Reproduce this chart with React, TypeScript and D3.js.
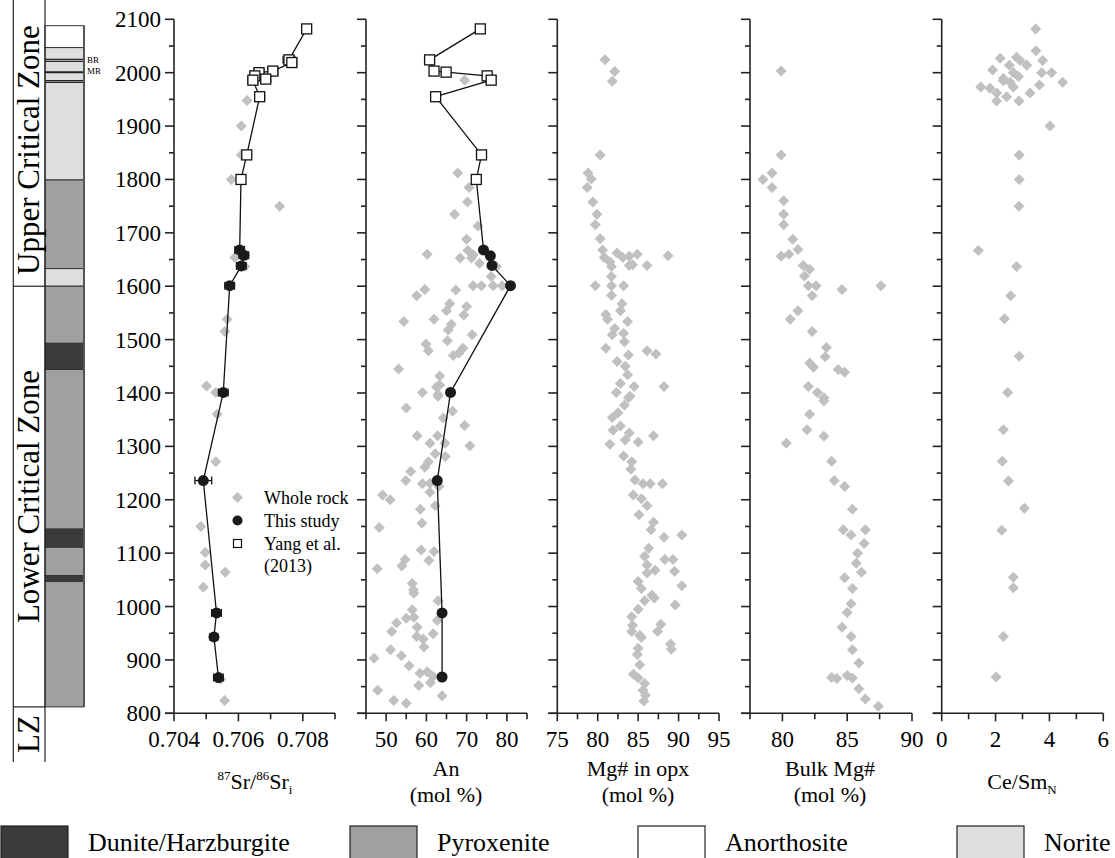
import React from "react";
import * as d3 from "d3";

// ---------- DATA ----------
const depthTicks = d3.range(800, 2101, 100);
const depthMinorTicks = d3.range(850, 2100, 100);

const lithologies = ["Dunite/Harzburgite", "Pyroxenite", "Anorthosite", "Norite"];

// [top depth, bottom depth, lithology]
const stratLayers: [number, number, string][] = [
  [2088, 2047, "Anorthosite"],
  [2047, 1799, "Norite"],
  [1799, 1633, "Pyroxenite"],
  [1633, 1600, "Norite"],
  [1600, 1493, "Pyroxenite"],
  [1493, 1444, "Dunite/Harzburgite"],
  [1444, 1145, "Pyroxenite"],
  [1145, 1111, "Dunite/Harzburgite"],
  [1111, 1058, "Pyroxenite"],
  [1058, 1047, "Dunite/Harzburgite"],
  [1047, 812, "Pyroxenite"],
];
const chromititeDepths = [2025, 2021, 2001, 1985, 1982];
const reefLabels: [string, number][] = [["BR", 2023], ["MR", 2003]];
const zones: [string, number, number][] = [
  ["Upper Critical Zone", 2110, 1600],
  ["Lower Critical Zone", 1600, 812],
  ["LZ", 812, 710],
];

// Panel 1: 87Sr/86Sr_i  [value, depth]
const srWholeRock: [number, number][] = [
  [0.70627, 1948], [0.70609, 1900], [0.70609, 1846], [0.70578, 1800], [0.70728, 1750],
  [0.70589, 1654], [0.7062, 1637], [0.70565, 1538], [0.70558, 1515], [0.70501, 1413],
  [0.7053, 1401], [0.70534, 1360], [0.7053, 1271], [0.70483, 1150], [0.70497, 1101],
  [0.70497, 1078], [0.70559, 1064], [0.70491, 1036], [0.70545, 864], [0.70557, 824],
];
// [value, depth, error]
const srThisStudy: [number, number, number][] = [
  [0.70604, 1668, 0.00015], [0.70617, 1658, 0.00015], [0.70609, 1638, 0.00015],
  [0.70573, 1601, 0.00015], [0.70553, 1401, 0.00015], [0.70491, 1236, 0.00026],
  [0.70532, 988, 0.00015], [0.70524, 943, 0.00012], [0.70538, 867, 0.00015],
];
const srYang: [number, number, number][] = [
  [0.70812, 2082, 0.0001], [0.70757, 2024, 0.00018], [0.70766, 2019, 0.00015],
  [0.70707, 2003, 0.00015], [0.70664, 2000, 0.00015], [0.70651, 1994, 0.00012],
  [0.70685, 1988, 0.00015], [0.70645, 1986, 0.00015], [0.70666, 1955, 0.00015],
  [0.70626, 1846, 0.0001], [0.70608, 1800, 0.0001],
];

// Panel 2: An (mol %)
const anWholeRock: [number, number][] = [
  [69.5, 1986], [67.8, 1812], [70.6, 1785], [70.2, 1758], [67.0, 1735], [72.8, 1713],
  [70.0, 1688], [60.2, 1660], [70.3, 1667], [68.4, 1653], [71.6, 1659], [73.2, 1643],
  [77.4, 1637], [76.1, 1618], [71.2, 1653], [71.6, 1601], [73.7, 1601], [76.6, 1601],
  [78.8, 1601], [67.3, 1593], [59.6, 1594], [57.6, 1582], [65.8, 1567], [65.0, 1554],
  [70.0, 1562], [69.3, 1546], [54.4, 1534], [61.9, 1538], [66.2, 1529], [65.4, 1518],
  [71.4, 1509], [65.2, 1498], [59.9, 1492], [60.5, 1479], [69.1, 1484], [68.1, 1475],
  [66.7, 1470], [53.1, 1445], [63.3, 1432], [62.5, 1411], [59.0, 1401], [62.9, 1397],
  [63.3, 1415], [62.9, 1394], [55.0, 1372], [66.5, 1366], [64.2, 1353], [69.5, 1339],
  [57.7, 1320], [62.8, 1320], [60.9, 1306], [64.6, 1306], [70.8, 1301], [62.2, 1286],
  [64.7, 1281], [60.5, 1271], [59.6, 1261], [56.1, 1253], [54.9, 1236], [59.0, 1230],
  [60.9, 1231], [63.1, 1225], [60.9, 1214], [49.1, 1209], [51.0, 1200], [62.2, 1189],
  [58.5, 1182], [58.9, 1156], [48.3, 1148], [58.7, 1106], [61.9, 1103], [60.6, 1086],
  [54.7, 1088], [53.9, 1076], [47.8, 1071], [56.5, 1043], [56.8, 1031], [56.9, 1025],
  [62.9, 1011], [56.5, 994], [55.0, 978], [56.9, 980], [52.6, 969], [51.4, 953],
  [62.7, 974], [57.7, 961], [57.6, 944], [59.2, 939], [61.7, 949], [59.4, 924],
  [51.1, 919], [53.8, 908], [47.0, 903], [55.7, 889], [58.4, 875], [60.2, 878],
  [61.7, 869], [61.0, 857], [58.1, 852], [47.9, 843], [51.9, 824], [55.0, 819],
  [63.9, 833],
];
const anThisStudy: [number, number][] = [
  [74.2, 1668], [75.9, 1657], [76.3, 1639], [80.9, 1601], [66.0, 1401],
  [62.7, 1236], [63.9, 988], [63.9, 868],
];
const anYang: [number, number][] = [
  [73.4, 2082], [60.8, 2024], [61.9, 2003], [64.9, 2001], [75.1, 1994],
  [76.1, 1986], [62.3, 1955], [73.7, 1846], [72.4, 1800],
];

// Panel 3: Mg# in opx
const mgOpx: [number, number][] = [
  [80.9, 2024], [82.1, 2002], [81.8, 1984], [80.3, 1846], [78.8, 1812], [79.2, 1801],
  [78.7, 1785], [79.4, 1758], [79.9, 1735], [79.7, 1715], [80.3, 1689], [80.6, 1668],
  [80.8, 1654], [81.5, 1646], [81.7, 1637], [82.4, 1662], [83.1, 1654], [83.9, 1656],
  [84.9, 1660], [88.7, 1657], [83.9, 1639], [84.3, 1640], [86.1, 1639], [81.7, 1618],
  [79.7, 1601], [81.7, 1601], [83.2, 1601], [81.7, 1583], [83.0, 1567], [82.8, 1554],
  [81.0, 1547], [81.2, 1538], [83.7, 1534], [82.1, 1521], [81.8, 1509], [83.2, 1512],
  [83.3, 1496], [81.0, 1484], [83.8, 1471], [86.1, 1479], [87.2, 1473], [82.4, 1459],
  [83.4, 1450], [83.7, 1434], [82.8, 1418], [84.5, 1412], [88.2, 1412], [82.3, 1401],
  [84.0, 1394], [83.8, 1391], [83.3, 1377], [82.5, 1363], [81.8, 1354], [82.8, 1338],
  [81.9, 1330], [83.9, 1325], [86.9, 1320], [83.4, 1312], [85.0, 1308], [81.5, 1304],
  [83.2, 1282], [84.2, 1271], [84.1, 1257], [84.6, 1237], [85.6, 1230], [86.5, 1230],
  [88.0, 1230], [84.4, 1209], [85.4, 1202], [86.1, 1189], [85.1, 1172], [86.9, 1158],
  [86.6, 1144], [88.2, 1130], [90.4, 1134], [86.3, 1109], [85.8, 1094], [88.3, 1088],
  [89.3, 1088], [86.1, 1078], [87.1, 1068], [89.5, 1066], [86.1, 1063], [85.0, 1047],
  [85.4, 1034], [90.4, 1039], [86.7, 1021], [87.0, 1016], [85.8, 1011], [85.0, 995],
  [89.6, 1003], [84.2, 981], [84.3, 965], [84.2, 953], [85.2, 946], [87.8, 967],
  [87.4, 953], [89.0, 930], [89.1, 920], [85.4, 942], [85.0, 922], [84.9, 910],
  [85.2, 891], [84.4, 873], [85.0, 866], [85.8, 856], [85.6, 843], [85.9, 834],
  [85.7, 823],
];

// Panel 4: Bulk Mg#
const bulkMg: [number, number][] = [
  [79.9, 2003], [79.9, 1846], [79.2, 1812], [78.5, 1800], [79.2, 1785], [80.1, 1760],
  [80.1, 1735], [80.1, 1715], [80.8, 1688], [81.2, 1669], [79.9, 1656], [80.5, 1660],
  [81.6, 1639], [82.1, 1632], [81.7, 1619], [82.0, 1601], [82.6, 1601], [84.6, 1594],
  [87.6, 1601], [82.3, 1582], [81.2, 1554], [80.6, 1538], [82.3, 1515], [83.4, 1485],
  [83.3, 1468], [82.1, 1456], [82.4, 1448], [84.3, 1444], [84.8, 1439], [82.0, 1412],
  [82.7, 1401], [83.2, 1391], [83.2, 1385], [82.1, 1360], [81.9, 1331], [83.2, 1319],
  [80.3, 1306], [83.8, 1272], [84.0, 1236], [84.8, 1225], [85.4, 1182], [84.7, 1144],
  [85.3, 1134], [86.4, 1144], [86.3, 1118], [85.8, 1100], [85.7, 1081], [86.1, 1064],
  [84.8, 1054], [85.4, 1034], [85.3, 1005], [85.0, 989], [84.6, 961], [85.3, 944],
  [85.4, 919], [85.9, 894], [83.8, 867], [84.2, 865], [85.0, 871], [85.4, 866],
  [85.9, 846], [86.4, 827], [87.4, 813],
];

// Panel 5: Ce/Sm_N
const ceSm: [number, number][] = [
  [3.49, 2082], [3.5, 2041], [3.75, 2023], [2.17, 2027], [2.78, 2029], [2.91, 2023],
  [3.16, 2014], [2.51, 2014], [1.89, 2005], [2.66, 2000], [2.85, 1993], [2.29, 1989],
  [2.54, 1982], [3.71, 2000], [4.08, 2000], [4.49, 1982], [3.63, 1977], [1.45, 1973],
  [1.79, 1971], [2.04, 1962], [2.41, 1955], [2.04, 1947], [3.28, 1962], [2.87, 1947],
  [2.66, 1973], [2.29, 1985], [4.02, 1900], [2.88, 1846], [2.88, 1800], [2.87, 1750],
  [1.36, 1667], [2.78, 1637], [2.56, 1582], [2.33, 1539], [2.88, 1469], [2.45, 1401],
  [2.29, 1331], [2.25, 1272], [2.48, 1235], [3.07, 1184], [2.23, 1143], [2.66, 1055],
  [2.66, 1035], [2.29, 944], [2.02, 868],
];

// tick definitions per panel
const srTicks = d3.range(0.704, 0.70901, 0.001);
const srLabels = [0.704, 0.706, 0.708];
const anTicks = d3.range(45, 85.1, 5);
const anLabels = [50, 60, 70, 80];
const opxTicks = d3.range(75, 95.1, 2.5);
const opxLabels = [75, 80, 85, 90, 95];
const bulkTicks = d3.range(77.5, 90.1, 2.5);
const bulkLabels = [80, 85, 90];
const ceTicks = d3.range(0, 6.1, 1);
const ceLabels = [0, 2, 4, 6];

const legendItems = ["Whole rock", "This study", "Yang et al."];

// ---------- STYLE ----------
const FONT = "'Liberation Serif', 'Times New Roman', serif";
const GRAY = "#c0c0c0";
const litFill: Record<string, string> = {
  "Dunite/Harzburgite": "#3b3b3b",
  Pyroxenite: "#a0a0a0",
  Anorthosite: "#ffffff",
  Norite: "#dedede",
};

const W = 1115;
const H = 858;
const yScale = d3.scaleLinear().domain([800, 2100]).range([713.3, 19.3]);
const Y0 = yScale(800);

const diamond = (s = 5.5) => `M0,${-s}L${s},0L0,${s}L${-s},0Z`;

type Pt = [number, number];

function YAxis({ x0, labels }: { x0: number; labels: boolean }) {
  return (
    <g>
      <line x1={x0} x2={x0} y1={yScale(2100)} y2={Y0} stroke="#222" strokeWidth={1.6} />
      {depthTicks.map((d) => (
        <line key={"M" + d} x1={x0 - 9} x2={x0} y1={yScale(d)} y2={yScale(d)} stroke="#222" strokeWidth={1.6} />
      ))}
      {depthMinorTicks.map((d) => (
        <line key={"m" + d} x1={x0 - 5} x2={x0} y1={yScale(d)} y2={yScale(d)} stroke="#222" strokeWidth={1.6} />
      ))}
      {labels &&
        depthTicks.map((d) => (
          <text key={"l" + d} x={x0 - 13} y={yScale(d) + 8} textAnchor="end" fontSize={23} fontFamily={FONT}>
            {d}
          </text>
        ))}
    </g>
  );
}

function XAxis({
  x,
  ticks,
  labels,
  fmt,
}: {
  x: d3.ScaleLinear<number, number>;
  ticks: number[];
  labels: number[];
  fmt: (v: number) => string;
}) {
  const [a, b] = x.range();
  const isLab = (t: number) => labels.some((l) => Math.abs(l - t) < 1e-9);
  return (
    <g>
      <line x1={a - 9} x2={b} y1={Y0} y2={Y0} stroke="#222" strokeWidth={1.6} />
      {ticks.map((t) => (
        <line key={t} x1={x(t)} x2={x(t)} y1={Y0} y2={Y0 + (isLab(t) ? 8 : 6)} stroke="#222" strokeWidth={1.6} />
      ))}
      {labels.map((l) => (
        <text key={"l" + l} x={x(l)} y={747} textAnchor="middle" fontSize={23} fontFamily={FONT}>
          {fmt(l)}
        </text>
      ))}
    </g>
  );
}

function Diamonds({ data, x }: { data: Pt[]; x: d3.ScaleLinear<number, number> }) {
  return (
    <g>
      {data.map(([v, d], i) => (
        <path key={i} d={diamond()} transform={`translate(${x(v)},${yScale(d)})`} fill={GRAY} />
      ))}
    </g>
  );
}

export default function App() {
  const xSr = d3.scaleLinear().domain([0.704, 0.709]).range([174, 335]);
  const xAn = d3.scaleLinear().domain([45, 85]).range([366, 527]);
  const xOpx = d3.scaleLinear().domain([75, 95]).range([557.3, 719]);
  const xBulk = d3.scaleLinear().domain([77.5, 90]).range([750, 912]);
  const xCe = d3.scaleLinear().domain([0, 6]).range([941.7, 1103.3]);

  const srLineData = [...srYang, ...srThisStudy].sort((a, b) => b[1] - a[1]);
  const anLineData = [...anYang, ...anThisStudy].sort((a, b) => b[1] - a[1]);
  const lineGen = (x: d3.ScaleLinear<number, number>) =>
    d3
      .line<number[]>()
      .x((p) => x(p[0]))
      .y((p) => yScale(p[1]));

  const errBar = (x: d3.ScaleLinear<number, number>, v: number, d: number, e: number, k: string) => {
    const y = yScale(d);
    const x1 = x(v - e);
    const x2 = x(v + e);
    return (
      <g key={k} stroke="#111" strokeWidth={1.3}>
        <line x1={x1} x2={x2} y1={y} y2={y} />
        <line x1={x1} x2={x1} y1={y - 4} y2={y + 4} />
        <line x1={x2} x2={x2} y1={y - 4} y2={y + 4} />
      </g>
    );
  };

  const colLeft = 45;
  const colRight = 84;

  const legendX = [1, 350, 638, 957];
  const titleY1 = 776;
  const titleY2 = 802;
  const titleMid = 789;

  return (
    <svg
      width={W}
      height={H}
      style={{ position: "absolute", left: 0, top: 0, background: "#fff" }}
      fontFamily={FONT}
    >
      <rect x={0} y={0} width={W} height={H} fill="#fff" />

      {/* ---------- Stratigraphic column ---------- */}
      {stratLayers.map(([t, b, lit], i) => (
        <rect
          key={i}
          x={colLeft}
          y={yScale(t)}
          width={colRight - colLeft}
          height={yScale(b) - yScale(t)}
          fill={litFill[lit]}
          stroke="#333"
          strokeWidth={1}
        />
      ))}
      {chromititeDepths.map((d, i) => (
        <line
          key={i}
          x1={colLeft}
          x2={colRight + 1}
          y1={yScale(d)}
          y2={yScale(d)}
          stroke="#222"
          strokeWidth={d === 2001 ? 2 : 1.3}
        />
      ))}
      <line x1={colRight} x2={colRight} y1={yScale(2088)} y2={yScale(812)} stroke="#555" strokeWidth={2} />
      {reefLabels.map(([t, d]) => (
        <text key={t} x={87} y={yScale(d) + 3} fontSize={9} fontFamily={FONT}>
          {t}
        </text>
      ))}
      {/* zone column */}
      <line x1={13.3} x2={13.3} y1={0} y2={762} stroke="#222" strokeWidth={1.2} />
      <line x1={45} x2={45} y1={0} y2={762} stroke="#222" strokeWidth={1.2} />
      <line x1={13.3} x2={45} y1={yScale(1600)} y2={yScale(1600)} stroke="#222" strokeWidth={1.2} />
      <line x1={13.3} x2={45} y1={yScale(812)} y2={yScale(812)} stroke="#222" strokeWidth={1.2} />
      {zones.map(([name, t, b]) => {
        const cy = (yScale(t) + yScale(b)) / 2;
        return (
          <text
            key={name}
            transform={`translate(39,${cy}) rotate(-90)`}
            textAnchor="middle"
            fontSize={31}
            fontFamily={FONT}
          >
            {name}
          </text>
        );
      })}

      {/* ---------- Panel 1: Sr isotopes ---------- */}
      <YAxis x0={174} labels={true} />
      <XAxis x={xSr} ticks={srTicks} labels={srLabels} fmt={(v) => v.toFixed(3)} />
      <Diamonds data={srWholeRock} x={xSr} />
      <path d={lineGen(xSr)(srLineData) || ""} fill="none" stroke="#111" strokeWidth={1.3} />
      {srYang.map(([v, d, e], i) => errBar(xSr, v, d, e, "ye" + i))}
      {srThisStudy.map(([v, d, e], i) => errBar(xSr, v, d, e, "te" + i))}
      {srYang.map(([v, d], i) => (
        <rect key={"ys" + i} x={xSr(v) - 5} y={yScale(d) - 5} width={10} height={10} fill="#fff" stroke="#111" strokeWidth={1.3} />
      ))}
      {srThisStudy.map(([v, d], i) => (
        <circle key={"tc" + i} cx={xSr(v)} cy={yScale(d)} r={5.5} fill="#1a1a1a" />
      ))}
      {/* legend */}
      <g fontFamily={FONT} fontSize={18}>
        <path d={diamond()} transform="translate(237.5,497.5)" fill={GRAY} />
        <circle cx={237.5} cy={520.5} r={5} fill="#1a1a1a" />
        <rect x={233.5} y={539.5} width={8} height={8} fill="#fff" stroke="#111" strokeWidth={1.2} />
        {legendItems.map((t, i) => (
          <text key={t} x={264} y={503.5 + i * 23}>
            {t}
          </text>
        ))}
        <text x={264} y={572}>
          (2013)
        </text>
      </g>
      <text x={255} y={titleMid} textAnchor="middle" fontSize={22} fontFamily={FONT}>
        <tspan fontSize={13} dy={-9}>87</tspan>
        <tspan dy={9}>Sr/</tspan>
        <tspan fontSize={13} dy={-9}>86</tspan>
        <tspan dy={9}>Sr</tspan>
        <tspan fontSize={13} dy={5}>i</tspan>
      </text>

      {/* ---------- Panel 2: An ---------- */}
      <YAxis x0={366} labels={false} />
      <XAxis x={xAn} ticks={anTicks} labels={anLabels} fmt={(v) => String(v)} />
      <Diamonds data={anWholeRock} x={xAn} />
      <path d={lineGen(xAn)(anLineData) || ""} fill="none" stroke="#111" strokeWidth={1.3} />
      {anYang.map(([v, d], i) => (
        <rect key={"ay" + i} x={xAn(v) - 5} y={yScale(d) - 5} width={10} height={10} fill="#fff" stroke="#111" strokeWidth={1.3} />
      ))}
      {anThisStudy.map(([v, d], i) => (
        <circle key={"at" + i} cx={xAn(v)} cy={yScale(d)} r={5.5} fill="#1a1a1a" />
      ))}
      <text x={446} y={titleY1} textAnchor="middle" fontSize={22} fontFamily={FONT}>An</text>
      <text x={446} y={titleY2} textAnchor="middle" fontSize={22} fontFamily={FONT}>(mol %)</text>

      {/* ---------- Panel 3: Mg# opx ---------- */}
      <YAxis x0={557.3} labels={false} />
      <XAxis x={xOpx} ticks={opxTicks} labels={opxLabels} fmt={(v) => String(v)} />
      <Diamonds data={mgOpx} x={xOpx} />
      <text x={638} y={titleY1} textAnchor="middle" fontSize={22} fontFamily={FONT}>Mg# in opx</text>
      <text x={638} y={titleY2} textAnchor="middle" fontSize={22} fontFamily={FONT}>(mol %)</text>

      {/* ---------- Panel 4: Bulk Mg# ---------- */}
      <YAxis x0={750} labels={false} />
      <XAxis x={xBulk} ticks={bulkTicks} labels={bulkLabels} fmt={(v) => String(v)} />
      <Diamonds data={bulkMg} x={xBulk} />
      <text x={830} y={titleY1} textAnchor="middle" fontSize={22} fontFamily={FONT}>Bulk Mg#</text>
      <text x={830} y={titleY2} textAnchor="middle" fontSize={22} fontFamily={FONT}>(mol %)</text>

      {/* ---------- Panel 5: Ce/Sm_N ---------- */}
      <YAxis x0={941.7} labels={false} />
      <XAxis x={xCe} ticks={ceTicks} labels={ceLabels} fmt={(v) => String(v)} />
      <Diamonds data={ceSm} x={xCe} />
      <text x={1022} y={titleMid} textAnchor="middle" fontSize={22} fontFamily={FONT}>
        Ce/Sm<tspan fontSize={13} dy={5}>N</tspan>
      </text>

      {/* ---------- Lithology legend ---------- */}
      {lithologies.map((lit, i) => (
        <g key={lit}>
          <rect x={legendX[i]} y={826} width={67} height={40} fill={litFill[lit]} stroke="#222" strokeWidth={1.2} />
          <text x={legendX[i] + 87} y={851} fontSize={26} fontFamily={FONT}>
            {lit}
          </text>
        </g>
      ))}
    </svg>
  );
}
